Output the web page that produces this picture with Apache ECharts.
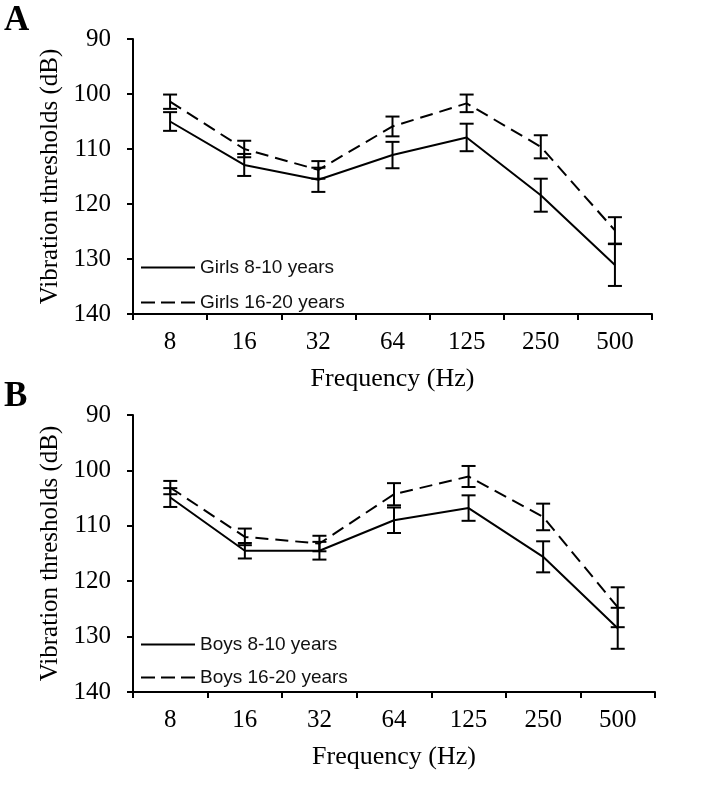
<!DOCTYPE html>
<html>
<head>
<meta charset="utf-8">
<script src="https://cdn.jsdelivr.net/npm/echarts@6/dist/echarts.min.js"></script>
<style>
html,body{margin:0;padding:0;background:#fff;}
#chart{width:708px;height:788px;}
</style>
</head>
<body>
<div id="chart"></div>
<script>
var categories = ['8', '16', '32', '64', '125', '250', '500'];
var yTicks = [90, 100, 110, 120, 130, 140];

var girlsYoung = [105.0, 112.9, 115.6, 111.1, 107.9, 118.4, 131.1];
var girlsYoungErr = [1.7, 2.0, 2.2, 2.4, 2.5, 3.0, 3.8];
var girlsOld = [101.4, 110.0, 113.8, 105.9, 101.7, 109.6, 124.8];
var girlsOldErr = [1.3, 1.5, 1.6, 1.8, 1.6, 2.1, 2.4];

var boysYoung = [104.9, 114.5, 114.5, 109.0, 106.8, 115.6, 128.5];
var boysYoungErr = [1.7, 1.4, 1.6, 2.3, 2.3, 2.8, 3.7];
var boysOld = [103.1, 112.0, 113.2, 104.3, 101.1, 108.4, 124.7];
var boysOldErr = [1.2, 1.5, 1.4, 2.0, 1.9, 2.4, 3.6];

var SERIF = '"Liberation Serif", "Times New Roman", serif';
var SANS = '"Liberation Sans", Arial, sans-serif';

function errData(vals, errs) {
  return vals.map(function (v, i) { return [i, v - errs[i], v + errs[i]]; });
}
function errRender(params, api) {
  var x = api.value(0);
  var lo = api.coord([x, api.value(1)]);
  var hi = api.coord([x, api.value(2)]);
  var hw = 7;
  var st = { stroke: '#000', lineWidth: 2 };
  return {
    type: 'group',
    children: [
      { type: 'line', shape: { x1: lo[0], y1: lo[1], x2: hi[0], y2: hi[1] }, style: st },
      { type: 'line', shape: { x1: lo[0] - hw, y1: lo[1], x2: lo[0] + hw, y2: lo[1] }, style: st },
      { type: 'line', shape: { x1: hi[0] - hw, y1: hi[1], x2: hi[0] + hw, y2: hi[1] }, style: st }
    ]
  };
}
function lineSeries(name, data, idx, dashed) {
  return {
    name: name, type: 'line', xAxisIndex: idx, yAxisIndex: idx,
    data: data, symbol: 'none', silent: true, z: 3,
    lineStyle: { color: '#000', width: 2, type: dashed ? [13, 7] : 'solid' },
    itemStyle: { color: '#000' }
  };
}
function errSeries(vals, errs, idx) {
  return {
    type: 'custom', xAxisIndex: idx, yAxisIndex: idx, silent: true, z: 4,
    data: errData(vals, errs), renderItem: errRender
  };
}
function xAx(idx) {
  return {
    type: 'category', gridIndex: idx, data: categories,
    axisLine: { lineStyle: { color: '#000', width: 2 } },
    axisTick: { show: true, length: 6, lineStyle: { color: '#000', width: 2 } },
    axisLabel: { color: '#000', fontFamily: SERIF, fontSize: 25, margin: 16 },
    name: 'Frequency (Hz)', nameLocation: 'middle', nameGap: 52,
    nameTextStyle: { color: '#000', fontFamily: SERIF, fontSize: 26 }
  };
}
function yAx(idx) {
  return {
    type: 'value', gridIndex: idx, inverse: true, min: yTicks[0], max: yTicks[yTicks.length - 1], interval: 10,
    splitLine: { show: false },
    axisLine: { show: true, lineStyle: { color: '#000', width: 2 } },
    axisTick: { show: true, length: 6, lineStyle: { color: '#000', width: 2 } },
    axisLabel: { color: '#000', fontFamily: SERIF, fontSize: 25, margin: 22 },
    name: 'Vibration thresholds (dB)', nameLocation: 'middle', nameGap: 68,
    nameTextStyle: { color: '#000', fontFamily: SERIF, fontSize: 25 }
  };
}
function legendAt(top, gap, names) {
  return {
    data: [
      { name: names[0], lineStyle: { color: '#000', width: 2, type: 'solid' } },
      { name: names[1], lineStyle: { color: '#000', width: 2, type: [14, 6] } }
    ],
    orient: 'vertical', left: 135, top: top,
    itemWidth: 54, itemHeight: 14, itemGap: gap,
    itemStyle: { opacity: 0 },
    textStyle: { color: '#111', fontFamily: SANS, fontSize: 19 },
    selectedMode: false
  };
}

var chart = echarts.init(document.getElementById('chart'), null, { renderer: 'canvas' });
chart.setOption({
  animation: false,
  backgroundColor: '#fff',
  title: [
    { text: 'A', left: -1, top: -2, textStyle: { fontFamily: SERIF, fontWeight: 'bold', fontSize: 35, color: '#000' } },
    { text: 'B', left: -1, top: 374, textStyle: { fontFamily: SERIF, fontWeight: 'bold', fontSize: 35, color: '#000' } }
  ],
  legend: [
    legendAt(253, 16, ['Girls 8-10 years', 'Girls 16-20 years']),
    legendAt(630, 14, ['Boys 8-10 years', 'Boys 16-20 years'])
  ],
  grid: [
    { left: 133, top: 39, width: 519, height: 275 },
    { left: 133, top: 415, width: 522, height: 277 }
  ],
  xAxis: [xAx(0), xAx(1)],
  yAxis: [yAx(0), yAx(1)],
  series: [
    lineSeries('Girls 8-10 years', girlsYoung, 0, false),
    lineSeries('Girls 16-20 years', girlsOld, 0, true),
    errSeries(girlsYoung, girlsYoungErr, 0),
    errSeries(girlsOld, girlsOldErr, 0),
    lineSeries('Boys 8-10 years', boysYoung, 1, false),
    lineSeries('Boys 16-20 years', boysOld, 1, true),
    errSeries(boysYoung, boysYoungErr, 1),
    errSeries(boysOld, boysOldErr, 1)
  ]
});
</script>
</body>
</html>
